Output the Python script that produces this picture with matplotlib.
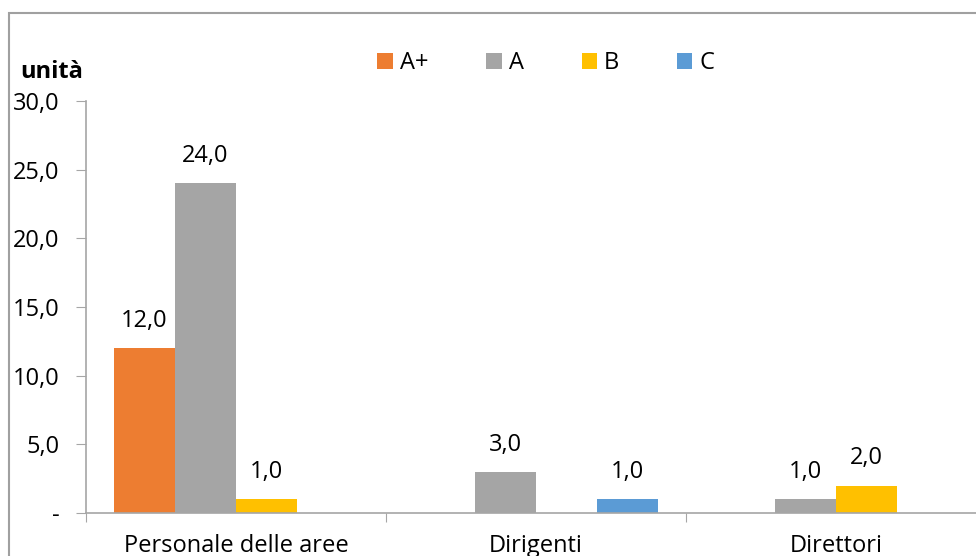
import numpy as np
import matplotlib
matplotlib.use("Agg")
from matplotlib import pyplot as plt
from matplotlib.patches import Rectangle

categories = ["Personale delle aree", "Dirigenti", "Direttori"]
series = ["A+", "A", "B", "C"]
values_aplus = [12.0, 0.0, 0.0]
values_a = [24.0, 3.0, 1.0]
values_b = [1.0, 0.0, 2.0]
values_c = [0.0, 1.0, 0.0]
colors = ["#ED7D31", "#A5A5A5", "#FFC000", "#5B9BD5"]
yticks = [0, 5, 10, 15, 20, 25, 30]

plt.rcParams['font.family'] = ['Open Sans', 'DejaVu Sans']
plt.rcParams['font.size'] = 17

fig = plt.figure(figsize=(9.76, 5.56), dpi=100)
ax = fig.add_axes([86/976, 1-513/556, 900/976, 412/556])

x = np.arange(len(categories))
w = 0.2033
all_values = [values_aplus, values_a, values_b, values_c]
for i, (name, vals, col) in enumerate(zip(series, all_values, colors)):
	pos = x + (i - 1.5) * w
	ax.bar(pos, vals, w, color=col, label=name)
	for p, v in zip(pos, vals):
		if v > 0:
			ax.annotate(f"{v:.1f}".replace(".", ","), (p, v), xytext=(0, 11),
				textcoords="offset points", ha="center", va="bottom", fontsize=17)

ax.set_xlim(-0.5, 2.5)
ax.set_ylim(0, 30)
ax.set_yticks(yticks)
ax.set_yticklabels(["-"] + [f"{t:.1f}".replace(".", ",") for t in yticks[1:]])
ax.set_xticks([-0.5, 0.5, 1.5, 2.5])
ax.set_xticklabels([])
ax.set_xticks(x, minor=True)
ax.set_xticklabels(categories, minor=True)
ax.tick_params(axis="x", which="minor", length=0, pad=15)
ax.tick_params(axis="x", which="major", length=6.5, color="#a6a6a6")
ax.tick_params(axis="y", length=7, color="#a6a6a6", pad=12)
for s in ["top", "right"]:
	ax.spines[s].set_visible(False)
for s in ["left", "bottom"]:
	ax.spines[s].set_color("#a6a6a6")
	ax.spines[s].set_linewidth(1.2)

fig.text(20/976, 1-72/556, "unità", fontweight="bold", fontsize=17, va="center", ha="left")

fig.legend(loc="center left", bbox_to_anchor=(368/976, 1-63/556), ncol=4, frameon=False,
	handlelength=0.65, handleheight=0.65, handletextpad=0.3, columnspacing=2.45, borderaxespad=0, fontsize=17)

fig.patches.append(Rectangle((9/976, -0.1), 1.1, 0.1 + (1-13/556), transform=fig.transFigure,
	fill=False, edgecolor="#a0a0a0", linewidth=1.5, clip_on=False))

fig.savefig("out.png", dpi=100)
